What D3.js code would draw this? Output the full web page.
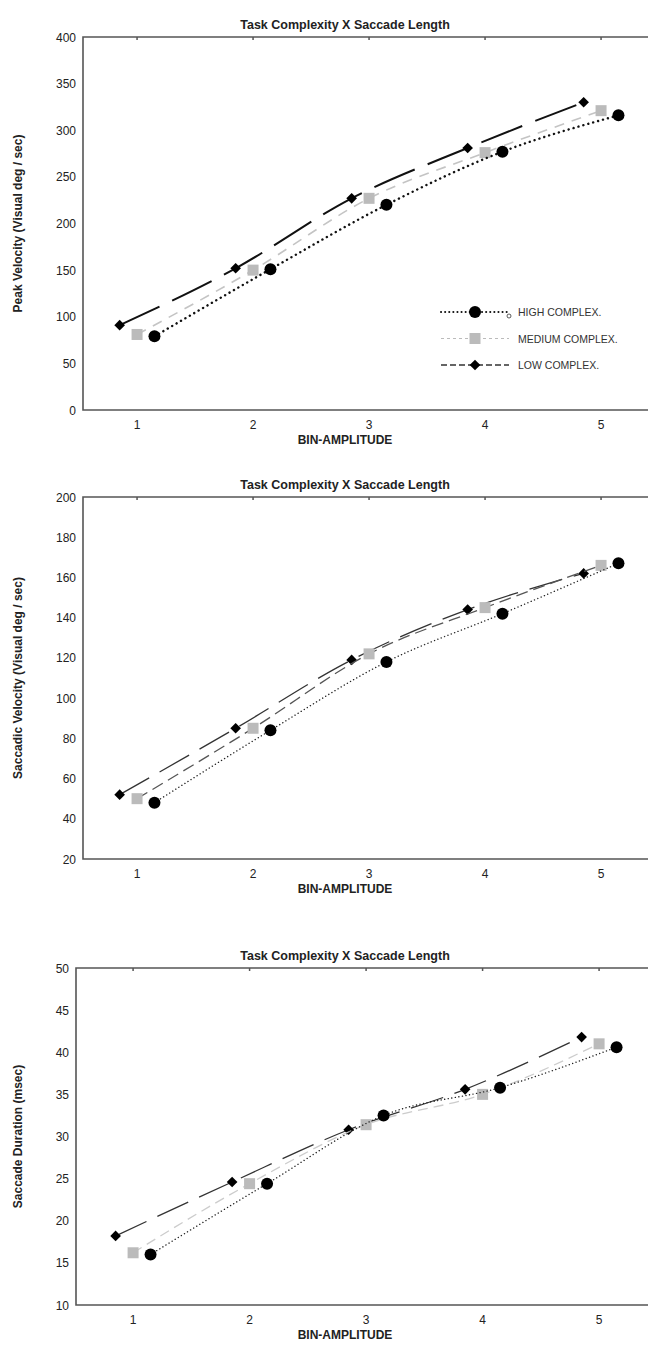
<!DOCTYPE html>
<html>
<head>
<meta charset="utf-8">
<script src="https://cdn.jsdelivr.net/npm/d3@7"></script>
<style>
  body { margin: 0; background: #fff; }
  text { font-family: "Liberation Sans", Arial, sans-serif; }
</style>
</head>
<body>
<svg id="chart" width="648" height="1347"></svg>
<script>
// bins on the x axis
const bins = [1, 2, 3, 4, 5];
const seriesNames = ["HIGH COMPLEX.", "MEDIUM COMPLEX.", "LOW COMPLEX."];

// peak velocity (deg/sec)
const peakHigh = [79, 151, 220, 277, 316];
const peakMedium = [81, 150, 227, 276, 321];
const peakLow = [91, 152, 227, 281, 330];

// saccadic velocity (deg/sec)
const sacHigh = [48, 84, 118, 142, 167];
const sacMedium = [50, 85, 122, 145, 166];
const sacLow = [52, 85, 119, 144, 162];

// saccade duration (msec)
const durHigh = [16.0, 24.4, 32.5, 35.8, 40.6];
const durMedium = [16.2, 24.4, 31.4, 35.0, 41.0];
const durLow = [18.2, 24.6, 30.8, 35.6, 41.8];

const peakTicks = [0, 50, 100, 150, 200, 250, 300, 350, 400];
const sacTicks = [20, 40, 60, 80, 100, 120, 140, 160, 180, 200];
const durTicks = [10, 15, 20, 25, 30, 35, 40, 45, 50];

const svg = d3.select("#chart");

// offset of each series along x so the markers don't overlap
const offsets = { high: 0.15, medium: 0, low: -0.15 };

const drawPanel = (opts) => {
    const g = svg.append("g");
    const x = d3.scaleLinear().domain([opts.xmin, 5.5]).range([opts.left, opts.left + (5.5 - opts.xmin) * opts.step]);
    const y = d3.scaleLinear().domain(opts.ydomain).range([opts.bottom, opts.top]);

    g.append("text")
        .attr("x", 345).attr("y", opts.top - 8)
        .attr("text-anchor", "middle")
        .style("font-size", "12.5px").style("font-weight", "bold").attr("fill", "#222")
        .text("Task Complexity X Saccade Length");

    // frame: top, left and bottom
    const frameColor = "#555";
    g.append("path")
        .attr("d", `M${x.range()[1]},${opts.top}H${opts.left}V${opts.bottom}H${x.range()[1]}`)
        .attr("fill", "none").attr("stroke", frameColor).attr("stroke-width", 1.6);

    bins.forEach(b => {
        g.append("line")
            .attr("x1", x(b)).attr("x2", x(b))
            .attr("y1", opts.top).attr("y2", opts.top + 3)
            .attr("stroke", frameColor).attr("stroke-width", 1.5);
        g.append("text")
            .attr("x", x(b)).attr("y", opts.bottom + 19)
            .attr("text-anchor", "middle")
            .style("font-size", "12px").attr("fill", "#222")
            .text(b);
    });

    opts.yticks.forEach(t => {
        g.append("text")
            .attr("x", opts.left - 7).attr("y", y(t) + 4.5)
            .attr("text-anchor", "end")
            .style("font-size", "12px").attr("fill", "#222")
            .text(t);
    });

    g.append("text")
        .attr("x", 345).attr("y", opts.bottom + 34)
        .attr("text-anchor", "middle")
        .style("font-size", "12px").style("font-weight", "bold").attr("fill", "#222")
        .text("BIN-AMPLITUDE");

    g.append("text")
        .attr("transform", `translate(22,${(opts.top + opts.bottom) / 2}) rotate(-90)`)
        .attr("text-anchor", "middle")
        .style("font-size", "12px").style("font-weight", "bold").attr("fill", "#222")
        .text(opts.ytitle);

    const line = d3.line()
        .x(d => x(d[0]))
        .y(d => y(d[1]))
        .curve(d3.curveMonotoneX);

    opts.series.forEach(s => {
        const pts = bins.map((b, i) => [b + offsets[s.key], s.values[i]]);
        g.append("path")
            .datum(pts)
            .attr("d", line)
            .attr("fill", "none")
            .attr("stroke", s.stroke)
            .attr("stroke-width", s.width)
            .attr("stroke-dasharray", s.dash)
            .attr("stroke-linecap", s.key === "high" ? "round" : "butt");
        pts.forEach(p => drawMarker(g, s.key, x(p[0]), y(p[1])));
    });
}

const drawMarker = (g, key, cx, cy) => {
    if (key === "high") {
        g.append("circle").attr("cx", cx).attr("cy", cy).attr("r", 6).attr("fill", "#000");
    } else if (key === "medium") {
        g.append("rect").attr("x", cx - 5.5).attr("y", cy - 5.5)
            .attr("width", 11).attr("height", 11).attr("fill", "#bbb");
    } else {
        g.append("path").attr("d", d3.symbol(d3.symbolDiamond2, 72)())
            .attr("transform", `translate(${cx},${cy})`).attr("fill", "#000");
    }
}

drawPanel({
    top: 37, bottom: 410, left: 83, step: 116, xmin: 0.534,
    ydomain: [0, 400], yticks: peakTicks,
    ytitle: "Peak Velocity (Visual deg / sec)",
    series: [
        { key: "low", values: peakLow, stroke: "#111", width: 2, dash: "44,14" },
        { key: "medium", values: peakMedium, stroke: "#c4c4c4", width: 1.6, dash: "10,8" },
        { key: "high", values: peakHigh, stroke: "#111", width: 2.4, dash: "0.1,5" }
    ]
});

drawPanel({
    top: 497, bottom: 859, left: 83, step: 116, xmin: 0.534,
    ydomain: [20, 200], yticks: sacTicks,
    ytitle: "Saccadic Velocity (Visual deg / sec)",
    series: [
        { key: "low", values: sacLow, stroke: "#333", width: 1.3, dash: "34,12" },
        { key: "medium", values: sacMedium, stroke: "#555", width: 1.3, dash: "12,6" },
        { key: "high", values: sacHigh, stroke: "#222", width: 1.4, dash: "0.1,3.5" }
    ]
});

drawPanel({
    top: 968, bottom: 1305, left: 76, step: 116.5, xmin: 0.51,
    ydomain: [10, 50], yticks: durTicks,
    ytitle: "Saccade Duration (msec)",
    series: [
        { key: "low", values: durLow, stroke: "#333", width: 1.3, dash: "34,12" },
        { key: "medium", values: durMedium, stroke: "#ccc", width: 1.3, dash: "10,6" },
        { key: "high", values: durHigh, stroke: "#222", width: 1.4, dash: "0.1,3.5" }
    ]
});

// legend in the first panel
const legend = svg.append("g");
const legendRows = [
    { key: "high", name: seriesNames[0], stroke: "#111", width: 2, dash: "0.1,4" },
    { key: "medium", name: seriesNames[1], stroke: "#bbb", width: 1, dash: "3,3" },
    { key: "low", name: seriesNames[2], stroke: "#333", width: 1.3, dash: "6,3" }
];
legendRows.forEach((r, i) => {
    const ly = 312 + i * 26.5;
    legend.append("line")
        .attr("x1", 441).attr("x2", 509).attr("y1", ly).attr("y2", ly)
        .attr("stroke", r.stroke).attr("stroke-width", r.width)
        .attr("stroke-dasharray", r.dash)
        .attr("stroke-linecap", r.key === "high" ? "round" : "butt");
    drawMarker(legend, r.key, 475, ly);
    legend.append("text")
        .attr("x", 518).attr("y", ly + 4)
        .style("font-size", "10.5px").attr("fill", "#333")
        .text(r.name);
});
// small open marker at the end of the first legend line
legend.append("circle").attr("cx", 509).attr("cy", 316).attr("r", 2)
    .attr("fill", "#fff").attr("stroke", "#333").attr("stroke-width", 0.8);
</script>
</body>
</html>
